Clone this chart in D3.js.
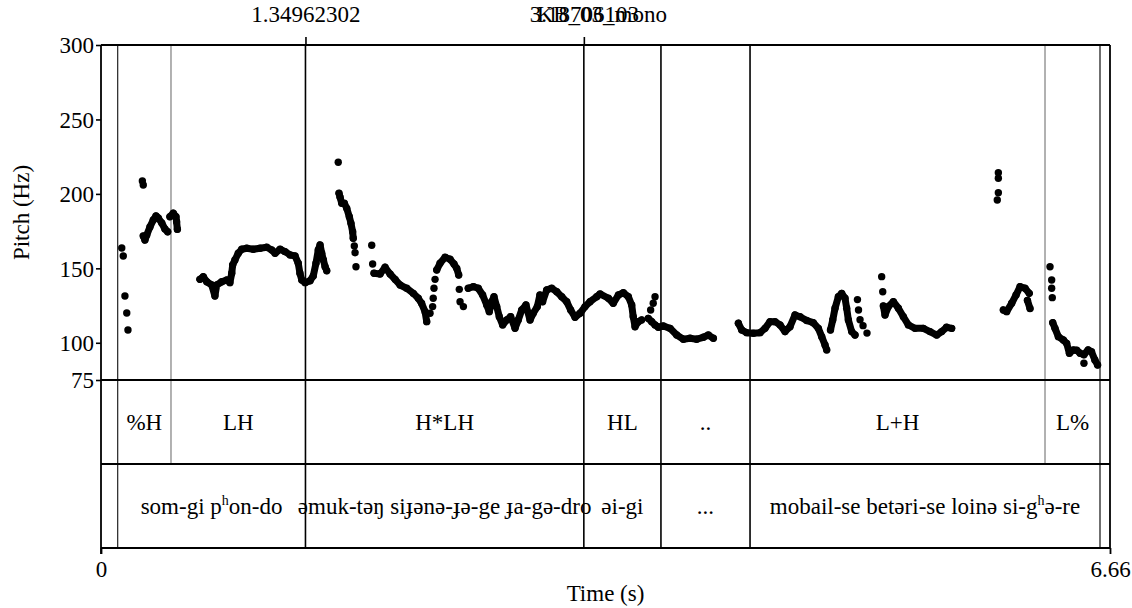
<!DOCTYPE html>
<html>
<head>
<meta charset="utf-8">
<script src="https://cdn.jsdelivr.net/npm/d3@7"></script>
<style>
  body { margin: 0; background: #fff; }
  svg text { font-family: "Liberation Serif", "Times New Roman", "DejaVu Serif", serif; font-size: 23px; fill: #000; }
</style>
</head>
<body>
<svg id="chart" width="1132" height="608"></svg>
<script>
// ---- axes ----
const timeDomain = [0, 6.66];
const pitchDomain = [75, 300];
const pitchTicks = [75, 100, 150, 200, 250, 300];
const timeTickLabels = ["0", "6.66"];

// ---- marked times shown above the plot ----
const markedTimes = [1.34962302, 3.18706103];
const markedTimeLabels = ["1.34962302", "3.18706103"];
const soundName = "KB_03_mono";

// ---- tier 1: tones ----
const toneBounds = [0.110, 0.462, 1.3496, 3.187, 3.696, 4.284, 6.231, 6.594];
const toneLabels = ["%H", "LH", "H*LH", "HL", "..", "L+H", "L%"];

// ---- tier 2: words (^h = superscript h) ----
const wordBounds = [0.110, 1.3496, 3.187, 3.696, 4.284, 6.594];
const wordLabels = ["som-gi p^hon-do", "əmuk-təŋ siɟənə-ɟə-ge ɟa-gə-dro", "əi-gi", "...", "mobail-se betəri-se loinə si-g^hə-re"];

// ---- pitch contour: voiced stretches [time s, F0 Hz] ----
const run01 = [[0.279,171.7],[0.290,169.0],[0.302,172.4],[0.323,177.8],[0.345,182.5],[0.363,185.2],[0.378,183.8],[0.401,180.5],[0.422,176.4],[0.440,174.6]];
const run02 = [[0.455,184.7],[0.477,187.0],[0.495,184.7],[0.499,181.3],[0.504,176.2]];
const run03 = [[0.653,142.6],[0.675,144.4],[0.698,141.0],[0.731,138.8],[0.752,131.4],[0.764,138.8],[0.797,141.0],[0.830,142.2],[0.851,140.4],[0.863,146.7],[0.869,152.2],[0.884,155.6],[0.906,160.1],[0.929,162.8],[0.962,163.5],[1.005,162.8],[1.050,163.5],[1.094,164.2],[1.127,162.3],[1.149,160.1],[1.182,162.8],[1.215,161.2],[1.248,159.0],[1.281,158.3],[1.302,153.4],[1.313,146.7],[1.325,142.2],[1.347,140.4],[1.380,141.7],[1.401,144.9],[1.419,153.4],[1.434,162.3],[1.446,165.7],[1.457,160.1],[1.468,155.6],[1.479,151.1],[1.490,148.4]];
const run04 = [[1.571,200.4],[1.578,197.7],[1.589,193.7],[1.606,193.7],[1.622,190.3],[1.639,184.7],[1.650,180.2],[1.661,174.6],[1.665,170.2]];
const run05 = [[1.802,146.7],[1.842,146.2],[1.875,150.7],[1.908,146.2],[1.941,142.6],[1.974,138.8],[2.018,136.6],[2.061,133.2],[2.094,129.9],[2.116,126.5],[2.139,120.9],[2.150,114.2]];
const run06 = [[2.216,148.9],[2.238,153.4],[2.271,157.4],[2.304,156.1],[2.330,152.9],[2.348,150.0],[2.361,145.5]];
const run07 = [[2.424,136.6],[2.458,137.7],[2.490,136.6],[2.519,132.1],[2.546,125.4],[2.563,120.9],[2.579,127.6],[2.594,130.9],[2.612,124.3],[2.629,117.5],[2.651,112.0],[2.678,115.3],[2.704,117.5],[2.733,109.7],[2.754,115.3],[2.777,122.0],[2.805,125.4],[2.832,115.3],[2.853,119.8],[2.880,124.3],[2.897,132.1],[2.915,127.6],[2.942,135.5],[2.975,136.6],[3.008,134.3],[3.041,130.9],[3.074,127.6],[3.100,122.0],[3.129,117.1],[3.162,119.8],[3.195,124.3],[3.228,127.6],[3.272,130.9],[3.294,132.8],[3.349,129.9],[3.381,126.5],[3.415,132.1],[3.448,133.6],[3.481,130.9],[3.503,125.4],[3.513,117.5],[3.525,110.8],[3.547,114.2],[3.568,115.3]];
const run08 = [[3.612,116.4],[3.635,114.2],[3.657,112.0],[3.679,110.4],[3.712,111.3],[3.756,109.7],[3.800,105.2],[3.844,102.4],[3.888,103.0],[3.932,102.4],[3.976,103.7],[4.009,105.2],[4.042,103.0]];
const run09 = [[4.207,113.1],[4.229,108.6],[4.262,106.8],[4.306,106.4],[4.350,106.8],[4.383,109.7],[4.416,114.2],[4.449,114.2],[4.482,112.0],[4.515,107.5],[4.548,110.8],[4.581,118.7],[4.614,117.5],[4.658,115.0],[4.701,113.5],[4.735,109.7],[4.757,104.1],[4.779,98.5],[4.790,95.2]];
const run10 = [[4.815,108.6],[4.830,115.3],[4.845,123.2],[4.867,130.9],[4.889,133.2],[4.911,129.9],[4.922,123.2],[4.933,115.3],[4.955,107.5],[4.977,105.2]];
const run11 = [[5.164,124.7],[5.175,118.7],[5.197,124.3],[5.230,127.6],[5.263,123.2],[5.296,117.5],[5.329,112.0],[5.373,109.7],[5.428,109.7],[5.472,107.5],[5.516,105.2],[5.549,107.5],[5.581,110.4],[5.615,109.7]];
const run12 = [[5.956,122.0],[5.978,120.9],[6.011,126.5],[6.040,132.1],[6.066,137.7],[6.099,136.6],[6.127,133.2]];
const run13 = [[6.115,128.5],[6.132,123.0]];
const run14 = [[6.282,113.5],[6.297,109.7],[6.319,104.1],[6.352,101.9],[6.374,99.6],[6.392,93.0],[6.418,95.2],[6.440,95.0],[6.462,93.0],[6.488,92.0],[6.516,95.2],[6.538,94.0],[6.560,88.5],[6.578,85.1]];

// separate, unconnected pitch points
const isolatedPoints = [
  [0.137,163.7],[0.147,158.3],[0.158,131.4],[0.170,120.0],[0.178,108.6],
  [0.273,208.7],[0.279,206.0],
  [1.566,221.2],[1.672,165.0],[1.677,160.5],[1.683,151.1],[1.787,165.5],[1.793,152.9],
  [2.172,119.8],[2.189,124.3],[2.193,129.9],[2.198,136.6],[2.205,142.6],
  [2.365,135.9],[2.370,127.6],[2.392,124.3],
  [3.628,122.0],[3.645,126.5],[3.657,130.9],
  [4.993,129.0],[5.000,122.0],[5.010,115.5],[5.030,111.5],[5.056,106.5],
  [5.153,144.4],[5.160,134.3],
  [5.923,214.2],[5.923,210.5],[5.923,200.8],[5.916,195.9],
  [6.264,151.1],[6.275,142.2],[6.275,136.6],[6.279,130.3],[6.488,86.2]
];

const contourRuns = [run01, run02, run03, run04, run05, run06, run07, run08, run09, run10, run11, run12, run13, run14];

// ---- layout ----
const svg = d3.select("#chart");
const plotLeft = 101, plotRight = 1110, plotTop = 45, pitchBottom = 380, tierMid = 464, plotBottom = 548;

const x = d3.scaleLinear().domain(timeDomain).range([plotLeft, plotRight]);
const y = d3.scaleLinear().domain(pitchDomain).range([pitchBottom, plotTop]);

// boundaries that run through the pitch area and the tiers
const sharedSet = new Set(wordBounds.map(d => d.toFixed(4)));
const lineG = svg.append("g");
toneBounds.forEach((t, i) => {
  const shared = sharedSet.has(t.toFixed(4));
  const first = i === 0, last = i === toneBounds.length - 1;
  const col = shared ? (first ? "#333" : (last ? "#222" : "#000")) : "#888";
  lineG.append("line")
    .attr("x1", x(t)).attr("x2", x(t))
    .attr("y1", plotTop).attr("y2", shared ? plotBottom : tierMid)
    .attr("stroke", col).attr("stroke-width", shared && !first && !last ? 1.6 : 1.3);
});

// frame
const frame = svg.append("g").attr("stroke", "#000").attr("stroke-width", 1.8);
[plotTop, pitchBottom, tierMid, plotBottom].forEach(v => {
  frame.append("line").attr("x1", plotLeft).attr("x2", plotRight).attr("y1", v).attr("y2", v);
});
frame.append("line").attr("x1", plotRight).attr("x2", plotRight).attr("y1", plotTop).attr("y2", plotBottom);

// left pitch axis
const yAxis = d3.axisLeft(y).tickValues(pitchTicks).tickSize(5).tickPadding(2).tickFormat(d3.format("d"));
const yAxisG = svg.append("g").attr("transform", `translate(${plotLeft},0)`).call(yAxis);
yAxisG.select(".domain").remove();
yAxisG.selectAll(".tick line").attr("stroke", "#000").attr("stroke-width", 1.6);
yAxisG.selectAll(".tick text").attr("font-size", null).attr("font-family", null).attr("dy", "0.34em");
svg.append("line").attr("x1", plotLeft).attr("x2", plotLeft).attr("y1", plotTop).attr("y2", plotBottom + 6)
  .attr("stroke", "#000").attr("stroke-width", 1.8);

// bottom time ticks
const xAxis = d3.axisBottom(x).tickValues(timeDomain).tickSize(6).tickPadding(7)
  .tickFormat((d, i) => timeTickLabels[i]);
const xAxisG = svg.append("g").attr("transform", `translate(0,${plotBottom})`).call(xAxis);
xAxisG.select(".domain").remove();
xAxisG.selectAll(".tick line").attr("stroke", "#000").attr("stroke-width", 1.8);
xAxisG.selectAll(".tick text").attr("font-size", null).attr("font-family", null);

// top marks for marked times
const topAxis = d3.axisTop(x).tickValues(markedTimes).tickSize(8).tickPadding(15)
  .tickFormat((d, i) => markedTimeLabels[i]);
const topG = svg.append("g").attr("transform", `translate(0,${plotTop})`).call(topAxis);
topG.select(".domain").remove();
topG.selectAll(".tick line").attr("stroke", "#000").attr("stroke-width", 1.6);
topG.selectAll(".tick text").attr("font-size", null).attr("font-family", null);
svg.append("text").attr("x", x(markedTimes[1]) + 18).attr("y", plotTop - 23)
  .attr("text-anchor", "middle").text(soundName);

// axis titles
svg.append("text").attr("x", (plotLeft + plotRight) / 2).attr("y", 601).attr("text-anchor", "middle").text("Time (s)");
svg.append("text").attr("transform", `translate(29,${(plotTop + pitchBottom) / 2}) rotate(-90)`)
  .attr("text-anchor", "middle").text("Pitch (Hz)");

// pitch contour
const line = d3.line().x(d => x(d[0])).y(d => y(d[1]));
const pitchG = svg.append("g");
pitchG.selectAll("path.run").data(contourRuns).join("path")
  .attr("class", "run").attr("d", line)
  .attr("fill", "none").attr("stroke", "#000").attr("stroke-width", 7)
  .attr("stroke-linejoin", "round").attr("stroke-linecap", "round");
const allPoints = contourRuns.flat().concat(isolatedPoints);
pitchG.selectAll("circle").data(allPoints).join("circle")
  .attr("cx", d => x(d[0])).attr("cy", d => y(d[1])).attr("r", 3.7).attr("fill", "#000");

// tier labels
function intervalLabels(bounds, labels, cy) {
  labels.forEach((lab, i) => {
    const cx = (x(bounds[i]) + x(bounds[i + 1])) / 2;
    const t = svg.append("text").attr("x", cx).attr("y", cy).attr("text-anchor", "middle");
    const parts = lab.split("^h");
    parts.forEach((p, k) => {
      if (k > 0) {
        t.append("tspan").attr("dy", -9).attr("font-size", 14).text("h");
        t.append("tspan").attr("dy", 9).text(p);
      } else {
        t.append("tspan").text(p);
      }
    });
  });
}
intervalLabels(toneBounds, toneLabels, 430);
intervalLabels(wordBounds, wordLabels, 514);
</script>
</body>
</html>
